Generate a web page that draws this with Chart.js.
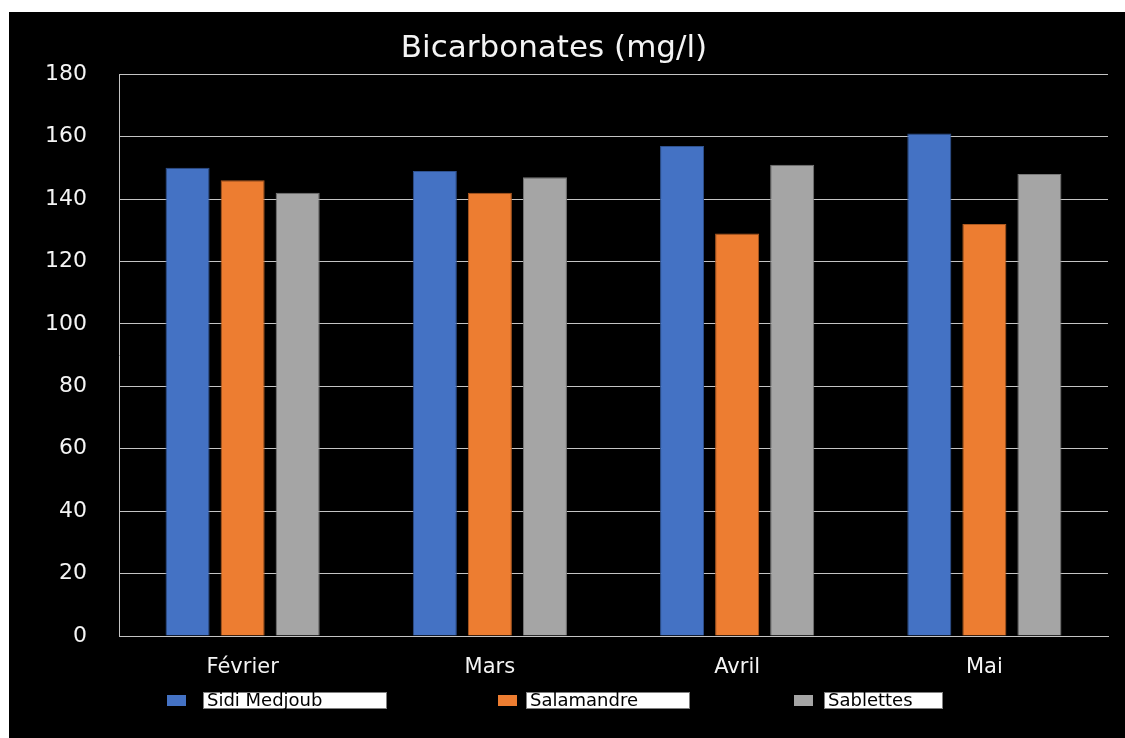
<!DOCTYPE html>
<html>
<head>
<meta charset="utf-8">
<title>Bicarbonates (mg/l)</title>
<script src="https://cdn.jsdelivr.net/npm/chart.js@4/dist/chart.umd.min.js"></script>
<style>
  html, body { margin: 0; padding: 0; background: #ffffff; }
  #wrap { width: 1125px; height: 738px; }
</style>
</head>
<body>
<div id="wrap"><canvas id="chart" width="1125" height="738"></canvas></div>
<script>
// Monthly bicarbonate readings per site
const months = ['Février', 'Mars', 'Avril', 'Mai'];
const sidiMedjoub = [150, 149, 157, 161];
const salamandre = [146, 142, 129, 132];
const sablettes = [142, 147, 151, 148];
const yTicks = [0, 20, 40, 60, 80, 100, 120, 140, 160, 180];

const FONT = "'DejaVu Sans', 'Open Sans', sans-serif";
const TEXT = '#f4f4f4';
const GRID = '#c4c4c4';

// Black panel behind the whole chart
const panel = {
  id: 'panel',
  beforeDraw(chart) {
    const ctx = chart.ctx;
    ctx.save();
    ctx.fillStyle = '#000000';
    ctx.fillRect(9, 12, chart.width - 9, chart.height - 12);
    ctx.restore();
  }
};

// Legend row: coloured swatch followed by a label on a white plate
const plateLegend = {
  id: 'plateLegend',
  afterDraw(chart, args, opts) {
    const ctx = chart.ctx;
    ctx.save();
    ctx.font = opts.font;
    ctx.textBaseline = 'alphabetic';
    chart.data.datasets.forEach((ds, i) => {
      const x = opts.x[i];
      ctx.fillStyle = ds.backgroundColor;
      ctx.fillRect(x, opts.swatchY, opts.swatchW, opts.swatchH);
      const px = x + opts.plateOffset[i];
      ctx.fillStyle = '#ffffff';
      ctx.fillRect(px, opts.plateY, opts.plateW[i], opts.plateH);
      ctx.strokeStyle = '#7f7f7f';
      ctx.lineWidth = 1;
      ctx.strokeRect(px + 0.5, opts.plateY + 0.5, opts.plateW[i] - 1, opts.plateH - 1);
      ctx.fillStyle = '#000000';
      ctx.fillText(ds.label, px + 4, opts.textY);
    });
    ctx.restore();
  }
};

new Chart(document.getElementById('chart'), {
  type: 'bar',
  data: {
    labels: months,
    datasets: [
      { label: 'Sidi Medjoub', data: sidiMedjoub, backgroundColor: '#4472c4', borderColor: '#2f528f', borderWidth: 1 },
      { label: 'Salamandre', data: salamandre, backgroundColor: '#ed7d31', borderColor: '#ae5a21', borderWidth: 1 },
      { label: 'Sablettes', data: sablettes, backgroundColor: '#a5a5a5', borderColor: '#787878', borderWidth: 1 }
    ]
  },
  options: {
    responsive: false,
    devicePixelRatio: 1,
    animation: false,
    categoryPercentage: 0.668,
    barPercentage: 0.8,
    layout: { padding: { left: 0, right: 17, top: 0, bottom: 0 } },
    plugins: {
      legend: { display: false },
      tooltip: { enabled: false },
      title: {
        display: true,
        text: 'Bicarbonates (mg/l)',
        color: TEXT,
        font: { family: FONT, size: 31, weight: 'normal', lineHeight: 1.2 },
        padding: { top: 30, bottom: 7 }
      },
      plateLegend: {
        font: "18px " + FONT,
        x: [167, 498, 794],
        swatchY: 695, swatchW: 19, swatchH: 11,
        plateOffset: [36, 28, 30],
        plateW: [184, 164, 119],
        plateY: 692, plateH: 17,
        textY: 706
      }
    },
    scales: {
      x: {
        grid: { display: false, drawTicks: false },
        border: { display: true, color: GRID, width: 1 },
        ticks: { color: TEXT, padding: 19, font: { family: FONT, size: 21 } },
        afterFit(scale) { scale.height = 102; }
      },
      y: {
        min: 0,
        max: 180,
        afterBuildTicks(scale) { scale.ticks = yTicks.map(v => ({ value: v })); },
        grid: { color: GRID, lineWidth: 1, drawTicks: false },
        border: { display: true, color: GRID, width: 1 },
        ticks: { color: TEXT, padding: 32, font: { family: FONT, size: 22 } },
        afterFit(scale) { scale.width = 119; }
      }
    }
  },
  plugins: [panel, plateLegend]
});
</script>
</body>
</html>
